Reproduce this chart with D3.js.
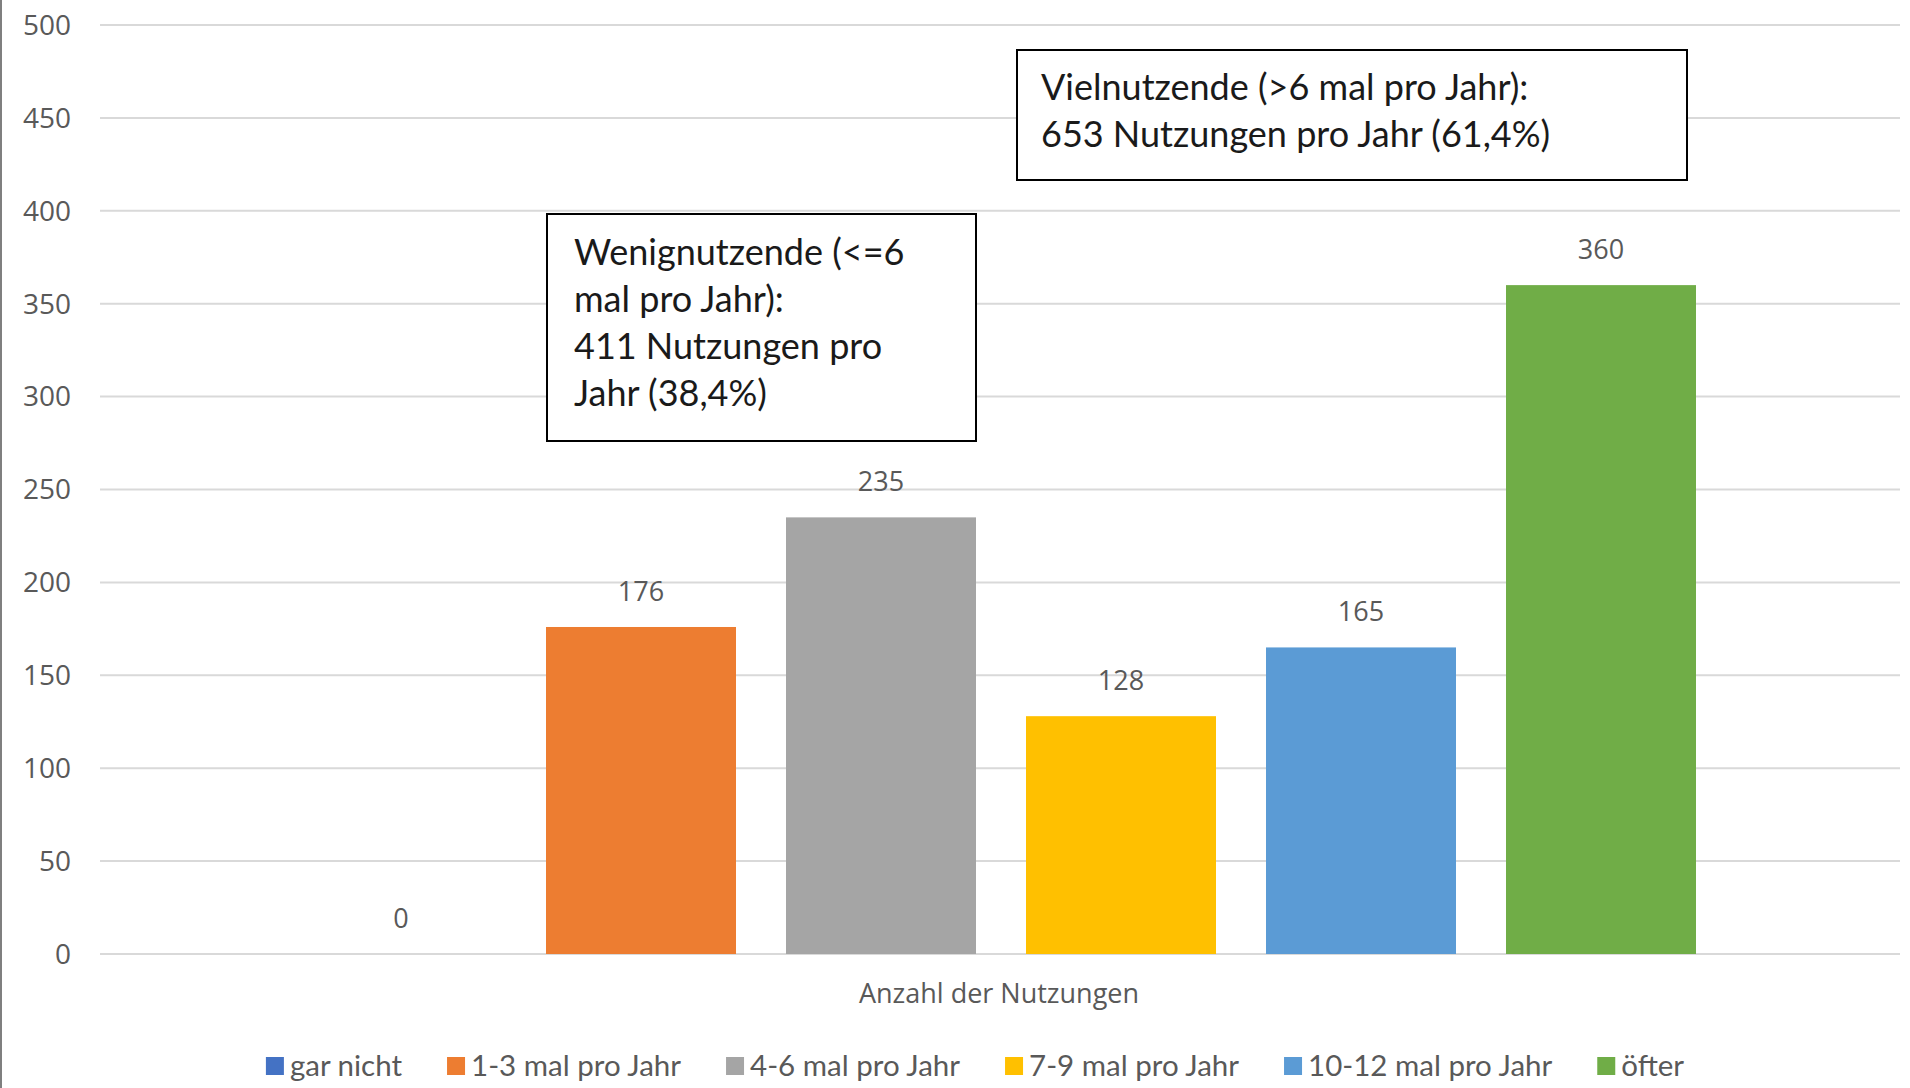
<!DOCTYPE html>
<html>
<head>
<meta charset="utf-8">
<script src="https://cdn.jsdelivr.net/npm/d3@7"></script>
<style>
  body { margin: 0; background: #fff; }
  svg { display: block; }
</style>
</head>
<body>
<div id="chart"></div>
<script>
// data
var categories = ['gar nicht', '1-3 mal pro Jahr', '4-6 mal pro Jahr', '7-9 mal pro Jahr', '10-12 mal pro Jahr', 'öfter']
var values = [0, 176, 235, 128, 165, 360]
var colors = ['#4472C4', '#ED7D31', '#A5A5A5', '#FFC000', '#5B9BD5', '#70AD47']
var yTicks = [0, 50, 100, 150, 200, 250, 300, 350, 400, 450, 500]
var axisTitle = 'Anzahl der Nutzungen'
var noteLow = ['Wenignutzende (<=6', 'mal pro Jahr):', '411 Nutzungen pro', 'Jahr (38,4%)']
var noteHigh = ['Vielnutzende (>6 mal pro Jahr):', '653 Nutzungen pro Jahr (61,4%)']

var width = 1910
var height = 1088
var axisFont = '"Open Sans", "DejaVu Sans", sans-serif'
var noteFont = 'Lato, "Noto Sans", sans-serif'
var textGray = '#595959'

var svg = d3.select('#chart').append('svg')
  .attr('width', width)
  .attr('height', height)

svg.append('rect').attr('width', width).attr('height', height).attr('fill', '#fff')

// left chart border
svg.append('line')
  .attr('x1', 1).attr('x2', 1).attr('y1', 0).attr('y2', height)
  .attr('stroke', '#7f7f7f').attr('stroke-width', 2)

var y = d3.scaleLinear().domain([0, 500]).range([954, 25])
var x = d3.scaleBand().domain(categories).range([306, 1696]).paddingInner(50 / 240).paddingOuter(0)

var plotLeft = 100, plotRight = 1900

// gridlines
svg.append('g').selectAll('line').data(yTicks).join('line')
  .attr('x1', plotLeft).attr('x2', plotRight)
  .attr('y1', d => y(d)).attr('y2', d => y(d))
  .attr('stroke', '#d9d9d9').attr('stroke-width', 2)

// y tick labels
svg.append('g').selectAll('text').data(yTicks).join('text')
  .attr('x', 71).attr('y', d => y(d))
  .attr('dy', '0.35em')
  .attr('text-anchor', 'end')
  .attr('font-family', axisFont).attr('font-size', 28)
  .attr('fill', textGray)
  .text(d => d)

// bars
svg.append('g').selectAll('rect').data(values).join('rect')
  .attr('x', (d, i) => x(categories[i]))
  .attr('width', x.bandwidth())
  .attr('y', d => y(d))
  .attr('height', d => y(0) - y(d))
  .attr('fill', (d, i) => colors[i])

// value labels
svg.append('g').selectAll('text').data(values).join('text')
  .attr('x', (d, i) => x(categories[i]) + x.bandwidth() / 2)
  .attr('y', d => y(d) - 26)
  .attr('text-anchor', 'middle')
  .attr('font-family', axisFont).attr('font-size', 27)
  .attr('fill', textGray)
  .text(d => d)

// axis title
svg.append('text')
  .attr('x', 999).attr('y', 994)
  .attr('dy', '0.35em')
  .attr('text-anchor', 'middle')
  .attr('font-family', axisFont).attr('font-size', 27)
  .attr('fill', textGray)
  .text(axisTitle)

// annotation boxes
function note(lines, box, textX, firstY, lineH) {
  var g = svg.append('g')
  g.append('rect')
    .attr('x', box[0]).attr('y', box[1])
    .attr('width', box[2] - box[0]).attr('height', box[3] - box[1])
    .attr('fill', '#fff').attr('stroke', '#000').attr('stroke-width', 2)
  g.selectAll('text').data(lines).join('text')
    .attr('x', textX)
    .attr('y', (d, i) => firstY + i * lineH)
    .attr('dy', '0.35em')
    .attr('font-family', noteFont).attr('font-size', 36)
    .attr('fill', '#1a1a1a')
    .text(d => d)
}
note(noteLow, [547, 214, 976, 441], 574, 252, 47)
note(noteHigh, [1017, 50, 1687, 180], 1041, 87, 47)

// legend
var legend = svg.append('g')
var items = legend.selectAll('g').data(categories).join('g')
items.append('rect')
  .attr('width', 18).attr('height', 18)
  .attr('y', -9)
  .attr('fill', (d, i) => colors[i])
items.append('text')
  .attr('x', 24).attr('dy', '0.35em')
  .attr('font-family', noteFont).attr('font-size', 29.5)
  .attr('fill', textGray)
  .text(d => d)

var pos = 0
items.each(function() {
  var it = d3.select(this)
  it.attr('transform', `translate(${pos},0)`)
  pos += 24 + it.select('text').node().getComputedTextLength() + 45
})
var total = pos - 45
legend.attr('transform', `translate(${975 - total / 2},1066)`)
</script>
</body>
</html>
